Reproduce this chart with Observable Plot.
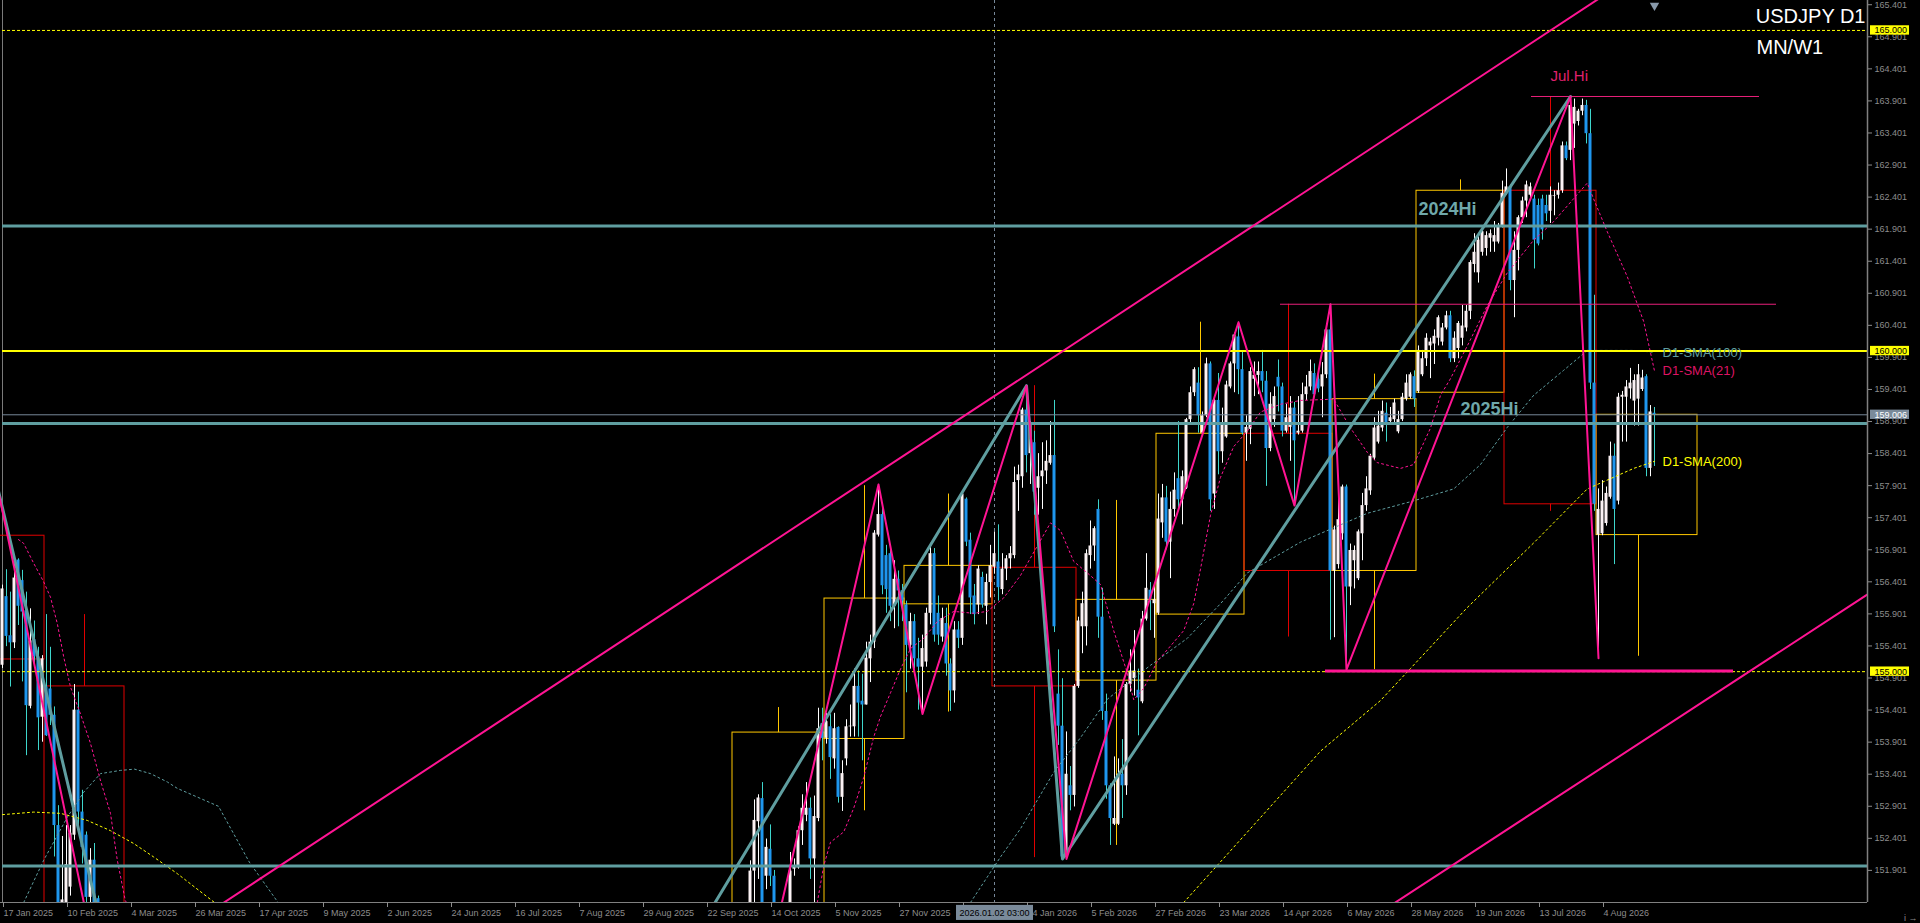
<!DOCTYPE html>
<html><head><meta charset="utf-8">
<script src="https://cdn.jsdelivr.net/npm/d3@7"></script>
<script src="https://cdn.jsdelivr.net/npm/@observablehq/plot@0.6"></script>
<style>html,body{margin:0;padding:0;background:#000;overflow:hidden}svg{display:block}</style>
</head><body>
<script>
// ---------- data ----------
const symbolTitle = "USDJPY D1";
const tfTitle = "MN/W1";

// daily candles, left block (bar index 0 = 17 Jan 2025)
const leftStart = 0;
const leftOpen  = [155.10,156.17,155.56,155.45,156.74,156.42,155.95,154.46,155.50,155.23,154.29,154.76,154.73,154.32,152.60,151.10,151.30,151.64,152.45,154.40,152.81,152.45,151.48,152.06,151.46];
const leftHigh  = [156.35,156.59,156.24,156.72,156.76,156.58,156.24,155.98,155.79,155.38,155.25,155.89,155.38,154.45,152.91,152.43,152.60,152.60,154.80,154.68,153.15,152.50,152.24,152.32,151.50];
const leftLow   = [155.05,155.39,154.76,155.36,155.72,154.84,153.69,154.42,155.07,153.77,153.90,153.99,154.16,152.11,151.00,150.90,151.10,151.50,152.37,152.52,152.00,151.20,151.30,151.00,150.80];
const leftClose = [156.29,155.55,155.45,156.46,156.02,155.93,154.47,155.48,155.23,154.28,155.20,154.00,154.32,152.60,151.20,151.44,151.99,152.48,154.40,152.81,152.26,151.48,152.06,151.20,151.00];

// daily candles, right block (bar 187 .. 413)
const rightStart = 187;
const rightOpen = [
151.30,151.89,152.66,153.02,151.81,152.23,151.81,null,null,null,
151.30,151.92,151.94,152.52,152.76,152.87,152.08,152.71,154.19,153.96,
154.14,153.64,154.13,153.04,153.64,154.14,154.14,154.77,154.54,154.48,
155.20,155.46,157.13,157.45,156.81,156.84,156.02,156.44,156.26,156.04,
155.41,155.78,155.20,155.07,155.15,155.91,156.84,155.91,155.54,155.75,
155.12,154.70,155.65,155.52,157.69,157.05,156.18,156.04,156.47,156.02,
156.39,156.63,156.71,156.28,156.60,156.76,156.81,157.98,158.04,159.08,
158.40,158.57,157.86,158.04,158.13,158.25,158.37,154.65,154.15,152.11,
153.22,153.07,154.77,155.70,155.70,156.81,156.96,157.53,155.85,154.38,
153.22,152.62,152.62,153.40,153.22,154.80,154.89,154.71,154.53,155.82,
156.27,156.06,155.91,157.32,157.71,157.02,157.53,158.01,157.68,157.86,
158.93,159.35,159.50,158.72,158.99,159.80,157.77,159.23,158.43,158.66,
159.44,159.80,160.22,159.71,158.72,158.78,159.56,159.62,159.68,159.53,
158.48,158.93,159.59,159.44,158.75,158.81,159.11,158.72,158.75,159.32,
159.44,159.65,159.56,159.44,159.63,160.33,156.57,156.67,157.15,157.88,
156.32,156.73,156.45,157.15,157.59,157.82,158.33,158.58,158.80,159.03,
158.90,158.93,158.74,158.93,159.25,159.28,159.60,159.37,159.63,159.88,
160.08,160.11,160.20,160.14,160.36,160.55,159.88,160.04,160.20,160.36,
160.62,161.35,161.22,161.54,161.60,161.76,161.70,161.70,161.95,162.46,
162.56,161.10,161.57,162.08,162.34,162.43,162.37,162.27,162.37,162.27,
162.18,162.41,162.43,162.50,163.20,163.13,163.54,163.58,163.74,163.83,
163.39,159.50,157.13,157.15,157.31,157.72,158.36,157.66,159.28,159.28,
159.41,159.22,159.25,159.40,159.60,158.17,159.03];
const rightHigh = [
152.05,153.00,153.08,153.27,152.39,152.61,151.90,null,null,null,
152.18,152.08,152.58,153.08,153.27,153.03,153.06,154.43,154.43,154.35,
154.33,154.35,154.14,153.61,154.25,154.48,155.04,155.01,154.96,155.46,
155.57,157.20,157.92,157.55,156.97,156.95,156.73,156.57,156.36,156.10,
155.91,155.89,155.52,155.57,155.99,157.00,156.92,156.18,155.99,155.99,
155.20,155.78,155.78,157.80,157.71,157.16,156.36,156.65,156.55,156.52,
156.97,157.18,157.29,156.84,156.81,156.95,158.19,158.22,159.11,159.46,
158.90,158.75,158.40,158.57,158.60,158.90,159.23,155.34,154.89,154.06,
153.52,154.80,155.85,156.24,156.90,157.35,157.26,157.68,156.30,154.65,
153.25,153.67,153.64,153.94,154.83,155.34,155.64,155.04,155.94,156.84,
156.39,156.36,157.77,157.92,157.89,157.80,158.10,158.90,158.13,158.95,
159.44,159.74,159.74,159.05,159.89,159.83,159.26,159.65,159.11,159.53,
159.83,160.28,160.45,159.98,158.99,159.74,159.83,159.83,160.01,159.68,
159.35,159.44,159.86,159.50,159.17,159.29,159.20,159.29,159.50,159.62,
159.86,159.80,159.71,159.82,160.43,160.73,157.27,157.88,157.91,157.91,
156.99,156.96,157.21,157.78,158.04,158.39,158.96,159.06,159.22,159.19,
159.12,159.25,159.06,159.34,159.63,159.66,159.69,160.08,160.01,160.27,
160.20,160.33,160.55,160.43,160.62,160.62,160.30,160.46,160.71,160.71,
161.41,161.83,161.80,161.89,161.86,161.89,162.02,161.99,162.65,162.84,
162.59,161.86,162.11,162.40,162.65,162.62,162.43,162.37,162.43,162.43,
162.56,162.50,162.62,163.26,163.26,163.97,163.93,163.77,163.93,163.91,
163.77,160.87,157.85,157.98,157.88,158.58,158.55,159.34,159.37,159.54,
159.73,159.63,159.79,159.70,159.63,159.15,159.12];
const rightLow = [
151.10,151.30,151.76,151.20,151.60,151.65,151.10,null,null,null,
151.20,151.81,151.92,152.29,152.66,151.76,151.40,152.66,153.61,153.87,
153.32,153.48,152.95,152.82,153.53,153.98,153.98,153.98,153.61,154.48,
154.83,155.36,157.10,156.20,155.91,155.78,155.67,155.70,155.78,154.67,
155.04,155.04,154.40,154.35,155.07,155.73,155.46,155.41,155.46,154.93,
154.38,154.51,155.36,155.41,156.95,155.89,155.73,155.89,155.99,155.73,
156.15,156.52,156.10,156.20,156.42,156.60,156.76,157.50,157.86,158.10,
157.92,157.44,157.44,157.53,157.92,158.22,155.61,153.85,152.08,152.08,
152.83,152.89,154.74,155.28,155.40,156.60,156.72,155.52,154.24,153.01,
152.29,152.60,152.60,152.71,153.07,154.68,154.62,154.00,154.50,155.79,
155.64,155.52,155.88,157.08,156.90,156.45,157.41,157.53,157.29,157.84,
158.87,159.29,158.72,158.69,158.96,157.50,157.53,158.07,158.25,158.64,
159.41,159.35,159.32,158.69,158.28,158.54,159.29,159.32,159.35,157.89,
158.43,158.81,159.05,158.66,158.72,158.28,157.59,158.69,158.72,159.23,
159.38,159.29,159.35,158.96,159.57,155.49,155.53,156.60,157.05,155.03,
156.03,156.29,156.42,156.73,157.50,157.75,158.29,158.55,158.74,158.58,
158.85,158.87,158.71,158.90,159.22,159.25,159.12,159.34,159.60,159.76,
159.57,159.79,160.08,160.08,160.33,159.82,159.82,159.88,160.08,160.30,
160.49,161.22,161.06,161.48,161.48,161.54,161.54,161.67,161.92,162.43,
160.94,160.52,161.25,161.99,162.08,162.34,161.28,161.64,161.73,162.02,
161.99,162.11,162.37,162.46,162.97,162.97,163.16,163.51,163.67,163.23,
159.40,157.50,155.21,157.12,157.27,157.69,156.67,157.60,158.58,158.58,
159.25,158.83,158.83,159.37,158.04,158.04,158.20];
const rightClose = [
151.89,152.68,153.03,151.30,152.26,151.81,151.30,null,null,null,
151.89,151.97,152.52,152.87,152.87,152.08,152.74,154.11,153.96,154.22,
153.66,154.11,153.04,153.41,154.14,154.15,154.77,154.51,154.48,155.21,
155.46,157.16,157.45,156.34,156.28,156.02,156.44,156.26,156.10,155.41,
155.78,155.20,155.07,155.36,155.91,156.84,155.57,155.57,155.83,155.12,
154.70,155.65,155.52,157.77,157.02,156.15,155.89,156.60,156.04,156.39,
156.65,156.84,156.31,156.60,156.76,156.84,157.95,158.07,159.08,158.37,
158.87,157.80,158.04,158.13,158.28,158.37,155.70,154.15,152.11,153.40,
153.07,154.77,155.79,156.06,156.84,156.96,157.23,155.85,154.38,153.22,
152.71,152.71,153.40,153.22,154.80,155.01,155.01,154.59,155.82,156.30,
156.12,156.12,157.38,157.71,157.02,157.53,157.83,157.68,158.04,158.93,
159.35,159.71,158.99,158.99,159.80,157.68,159.23,158.43,158.84,159.47,
159.80,160.25,159.71,158.72,158.81,159.68,159.62,159.68,159.53,158.48,
159.17,159.29,159.44,158.75,158.96,159.11,158.60,158.75,159.32,159.44,
159.68,159.32,159.41,159.63,160.33,156.57,157.21,157.37,157.88,156.32,
156.89,156.89,157.18,157.59,157.85,158.36,158.80,158.83,159.06,158.87,
158.96,159.19,158.93,159.28,159.50,159.63,159.25,160.01,159.88,160.20,
160.14,160.23,160.52,160.36,160.55,159.88,160.20,160.43,160.39,160.62,
161.38,161.54,161.73,161.86,161.80,161.83,161.80,161.95,162.46,162.56,
161.10,161.57,162.08,162.34,162.59,162.56,161.73,161.67,161.89,162.14,
162.43,162.42,162.50,163.20,163.00,163.83,163.80,163.74,163.83,163.39,
159.50,157.61,157.53,157.66,157.78,158.36,157.53,159.28,159.31,159.44,
159.50,159.54,159.63,159.58,158.17,159.05,159.006];

// monthly (MN) boxes
const monthStart = [-12, 11, 183, 206, 226, 248, 269, 289, 311, 333, 354, 376, 399];
const monthNext  = [11, 31, 206, 226, 248, 269, 289, 311, 333, 354, 376, 399, 420];
const monthOpen  = [157.12,154.77,147.90,153.95,156.05,156.62,154.86,155.89,158.71,156.57,159.35,162.50,157.13];
const monthClose = [155.19,150.60,154.05,156.14,156.65,154.77,156.12,158.71,156.57,159.25,162.50,157.61,159.006];
const monthHigh  = [158.87,155.89,154.44,157.90,157.77,159.46,157.67,160.45,160.73,159.64,162.67,163.97,159.77];
const monthLow   = [154.80,149.30,146.60,152.83,154.37,152.10,152.29,155.89,155.54,155.03,159.35,157.50,155.24];
const currentBoxEnd = 424.25;

// moving averages [bar, value]
const sma21Left = [[4,157.06],[5.3,157.0],[7.8,156.69],[10.3,156.40],[12,156.16],[13.7,155.75],[15.3,155.23],[17,154.76],[19.5,154.34],[22,153.88],[24.5,153.30],[27,152.79],[28.7,152.06],[30.7,151.43],[31,151.40]];
const sma21Right = [[203.7,151.40],[205.3,151.97],[207,152.34],[210.3,152.50],[212.8,152.87],[215.3,153.35],[217.8,153.98],[219.5,154.30],[222,154.67],[224.5,155.04],[227,155.36],[230.3,155.52],[233.7,155.78],[237.8,155.94],[242.8,155.91],[246.2,155.94],[250.3,156.15],[254.5,156.50],[262,157.32],[264.5,157.20],[267.8,156.72],[271.2,156.54],[274.5,156.36],[277.8,155.64],[281.2,154.98],[282.8,154.56],[285.3,154.74],[288.7,155.16],[292,155.40],[295.3,155.64],[297.8,156.06],[299.5,156.60],[302,157.44],[304.5,158.03],[307.8,158.51],[311.2,158.75],[314.5,159.05],[319.5,159.17],[324.5,159.23],[332.8,159.25],[337,158.80],[341.2,158.42],[343.7,158.26],[349.5,158.17],[352.8,158.23],[357,158.80],[359.5,159.31],[362,159.57],[366.2,160.08],[371.2,160.71],[376.2,161.22],[382.8,161.73],[387.8,162.02],[396.2,162.62],[397.8,162.37],[401.2,161.86],[406.2,161.16],[410.3,160.46],[413,159.69]];
const sma100Left = [[5.3,151.40],[10.3,152.06],[16.2,152.73],[20.3,153.12],[24.5,153.41],[29.5,153.46],[33,153.48],[37,153.41],[41.2,153.28],[43.7,153.18],[54,152.90],[61.7,152.03],[68.9,151.40]];
const sma100Right = [[242,151.40],[249.5,152.11],[254.5,152.55],[262.8,153.43],[269.5,153.97],[276.2,154.57],[287,155.10],[296.2,155.52],[304.5,156.06],[311.2,156.54],[316.2,156.72],[324.5,157.02],[341.2,157.47],[352,157.65],[362.8,157.85],[369.5,158.23],[376.2,158.81],[382.8,159.31],[390.3,159.70],[396.2,160.01],[408,160.01],[413,159.98]];
const sma200Left = [[0,152.77],[7.8,152.81],[14.5,152.79],[21.2,152.68],[27,152.52],[32.8,152.32],[37.8,152.11],[43.7,151.85],[53,151.40]];
const sma200Right = [[295.3,151.40],[329.5,153.76],[344.5,154.55],[352,155.05],[366.2,156.00],[383,157.02],[396.2,157.85],[407.8,158.17],[413,158.28]];

// zigzags [bar, price]
const zigzagW1 = [[-3,158.40],[37,146.40],[67,139.89],[183,148.20],[219,157.92],[230,154.34],[256,159.46],[266,152.08],[309,160.45],[323,157.59],[332,160.73],[336,155.03],[392,163.97],[399,155.21]];
const zigzagMN = [[-5,158.87],[67,139.89],[256,159.46],[265,152.08],[392,163.97]];

// trend channel anchors [bar, price]
const upperChannel = [[179.5,156.49],[397.25,165.42]];
const lowerChannel = [[374.5,152.47],[448.7,155.49]];

// levels
const teallevels = [161.95, 158.87, 151.97];
const level2024Hi = 161.95, level2025Hi = 158.87;
const roundSolid = [160.000];
const roundDashed = [165.000, 155.000];
const bid = 159.006;
const julHi = 163.97, aprHi = 160.73, mayLo = 155.01;

// axes
const yTicks = [151.901,152.401,152.901,153.401,153.901,154.401,154.901,155.401,155.901,156.401,156.901,157.401,157.901,158.401,158.901,159.401,159.901,160.401,160.901,161.401,161.901,162.401,162.901,163.401,163.901,164.401,164.901,165.401];
const xTickBars = [0,16,32,48,64,80,96,112,128,144,160,176,192,208,224,240,256,272,288,304,320,336,352,368,384,400];
const xTickLabels = ["17 Jan 2025","10 Feb 2025","4 Mar 2025","26 Mar 2025","17 Apr 2025","9 May 2025","2 Jun 2025","24 Jun 2025","16 Jul 2025","7 Aug 2025","29 Aug 2025","22 Sep 2025","14 Oct 2025","5 Nov 2025","27 Nov 2025","","14 Jan 2026","5 Feb 2026","27 Feb 2026","23 Mar 2026","14 Apr 2026","6 May 2026","28 May 2026","19 Jun 2026","13 Jul 2026","4 Aug 2026"];
const crossBar = 248, crossLabel = "2026.01.02 03:00";
const priceTags = [
  {v:165.000, t:"165.000", bg:"#FFFF00", fg:"#000"},
  {v:160.000, t:"160.000", bg:"#FFFF00", fg:"#000"},
  {v:155.000, t:"155.000", bg:"#FFFF00", fg:"#000"},
  {v:159.006, t:"159.006", bg:"#7A8A9A", fg:"#fff"}
];

// ---------- build ----------
const TEAL="#5F9EA0", PINK="#FF1493", GOLD="#FFC800", RED="#E00000", YEL="#FFFF00";
const BULL_BODY="#FBF2F4", BULL_WICK="#FFFFFF", BEAR_BODY="#1E96EE", BEAR_WICK="#3ED6CC";
const AX="#8C8C8C", FONT="Liberation Sans, Arial, sans-serif";

function block(start, O, Hh, L, C){
  return O.map((o,k)=> o==null ? null : {i:start+k, open:o, high:Hh[k], low:L[k], close:C[k]}).filter(Boolean);
}
const candles = [...block(leftStart,leftOpen,leftHigh,leftLow,leftClose), ...block(rightStart,rightOpen,rightHigh,rightLow,rightClose)];
const isBull = d => d.close >= d.open;
const months = monthStart.map((s,k)=>({start:s, next:monthNext[k], open:monthOpen[k], close:monthClose[k], high:monthHigh[k], low:monthLow[k], boxEnd: k===monthStart.length-1 ? currentBoxEnd : monthNext[k]}));
const mColor = d => d.close >= d.open ? GOLD : RED;
const mMid = d => (d.start + d.next - 1)/2;

const X_DOMAIN=[-0.5,466.25], Y_DOMAIN=[151.4,165.467];
function extend(a){ // extend a 2-anchor trendline across the view
  const [[x0,y0],[x1,y1]] = a, s=(y1-y0)/(x1-x0);
  return [[-20, y0+s*(-20-x0)], [480, y0+s*(480-x0)]];
}
const lastBar = candles[candles.length-1].i;
const P = d=>d[0], V = d=>d[1];
const dotted = {strokeWidth:1, strokeDasharray:"2,3", clip:true};

const chart = Plot.plot({
  width:1920, height:923,
  marginLeft:0, marginRight:53, marginTop:0, marginBottom:21,
  style:{background:"#000", color:AX, fontFamily:FONT, overflow:"visible"},
  x:{domain:X_DOMAIN, axis:null},
  y:{domain:Y_DOMAIN, axis:null},
  marks:[
    // left border
    Plot.ruleX([0], {stroke:"#7A7A7A", strokeWidth:1}),
    // monthly boxes
    Plot.rect(months, {x1:d=>d.start-0.5, x2:d=>d.boxEnd-0.5, y1:"open", y2:"close", fill:"none", stroke:mColor, strokeWidth:1, clip:true}),
    Plot.ruleX(months, {x:mMid, y1:d=>Math.max(d.open,d.close), y2:"high", stroke:mColor, clip:true}),
    Plot.ruleX(months, {x:mMid, y1:d=>Math.min(d.open,d.close), y2:"low", stroke:mColor, clip:true}),
    // crosshair
    Plot.ruleX([crossBar], {stroke:"#778899", strokeDasharray:"3,3"}),
    // candles
    Plot.ruleX(candles, {x:"i", y1:"low", y2:"high", stroke:d=>isBull(d)?BULL_WICK:BEAR_WICK, clip:true}),
    Plot.rect(candles, {x1:d=>d.i-0.375, x2:d=>d.i+0.375, y1:"open", y2:"close", fill:d=>isBull(d)?BULL_BODY:BEAR_BODY, clip:true}),
    // moving averages
    Plot.line(sma200Left, {x:P, y:V, stroke:YEL, ...dotted}),
    Plot.line(sma200Right, {x:P, y:V, stroke:YEL, ...dotted}),
    Plot.line(sma100Left, {x:P, y:V, stroke:TEAL, ...dotted}),
    Plot.line(sma100Right, {x:P, y:V, stroke:TEAL, ...dotted}),
    Plot.line(sma21Left, {x:P, y:V, stroke:PINK, ...dotted}),
    Plot.line(sma21Right, {x:P, y:V, stroke:PINK, ...dotted}),
    // horizontal levels
    Plot.ruleY(roundDashed, {x1:0, x2:X_DOMAIN[1], stroke:YEL, strokeWidth:1, strokeDasharray:"3,2"}),
    Plot.ruleY(roundSolid, {x1:0, x2:X_DOMAIN[1], stroke:YEL, strokeWidth:2}),
    Plot.ruleY([bid], {x1:0, x2:X_DOMAIN[1], stroke:"#778899", strokeWidth:1}),
    Plot.ruleY(teallevels, {x1:0, x2:X_DOMAIN[1], stroke:TEAL, strokeWidth:3}),
    Plot.ruleY([julHi], {x1:382.25, x2:439.25, stroke:"#E8207A", strokeWidth:1}),
    Plot.ruleY([aprHi], {x1:319.5, x2:443.5, stroke:"#E8207A", strokeWidth:1}),
    Plot.ruleY([mayLo], {x1:330.75, x2:432.75, stroke:PINK, strokeWidth:3}),
    // channel
    Plot.line(extend(upperChannel), {x:P, y:V, stroke:PINK, strokeWidth:2, clip:true}),
    Plot.line(extend(lowerChannel), {x:P, y:V, stroke:PINK, strokeWidth:2, clip:true}),
    // zigzags
    Plot.line(zigzagMN, {x:P, y:V, stroke:TEAL, strokeWidth:3, clip:true}),
    Plot.line(zigzagW1, {x:P, y:V, stroke:PINK, strokeWidth:2, clip:true}),
    // axes lines
    Plot.ruleY([Y_DOMAIN[0]], {stroke:"#808080"}),
    Plot.ruleX([X_DOMAIN[1]], {stroke:"#808080", strokeWidth:1.5}),
    Plot.axisY({anchor:"right", ticks:yTicks, tickFormat:d=>d.toFixed(3), tickSize:4, tickPadding:3, fontSize:9, color:AX}),
    Plot.axisX({anchor:"bottom", ticks:xTickBars, tickFormat:d=>xTickLabels[xTickBars.indexOf(d)], tickSize:5, tickPadding:2, textAnchor:"start", dx:1, fontSize:9, color:AX}),
    // price tags
    Plot.rect(priceTags, {x1:467, x2:476.75, y1:d=>d.v-0.073, y2:d=>d.v+0.073, fill:d=>d.bg}),
    Plot.text(priceTags, {x:468, y:"v", text:"t", fill:d=>d.fg, textAnchor:"start", lineAnchor:"middle", fontSize:9, fontFamily:FONT}),
    // crosshair tag
    Plot.rect([crossLabel], {x1:crossBar-9.5, x2:crossBar+9.75, y1:151.355, y2:151.12, fill:"#7A8A9A"}),
    Plot.text([crossLabel], {x:crossBar, y:151.237, text:d=>d, fill:"#000", fontSize:9, fontFamily:FONT, lineAnchor:"middle"}),
    // chart shift marker
    Plot.dot([lastBar], {x:d=>d, frameAnchor:"top", dy:5, symbol:"triangle", rotate:180, r:3.5, fill:"#8899AA", stroke:null}),
    // labels
    Plot.text([symbolTitle], {frameAnchor:"top-right", text:d=>d, dx:-2, dy:8, textAnchor:"end", lineAnchor:"top", fill:"#fff", fontSize:20, fontFamily:FONT}),
    Plot.text([tfTitle], {frameAnchor:"top-right", text:d=>d, dx:-111, dy:39, textAnchor:"start", lineAnchor:"top", fill:"#fff", fontSize:20, fontFamily:FONT}),
    Plot.text(["2024Hi"], {x:354, y:level2024Hi, text:d=>d, dy:-11, textAnchor:"start", lineAnchor:"bottom", fill:"#6FA8AA", fontSize:18, fontWeight:"bold", fontFamily:FONT}),
    Plot.text(["2025Hi"], {x:364.5, y:level2025Hi, text:d=>d, dy:-9, textAnchor:"start", lineAnchor:"bottom", fill:"#6FA8AA", fontSize:18, fontWeight:"bold", fontFamily:FONT}),
    Plot.text(["Jul.Hi"], {x:387, y:julHi, text:d=>d, dy:-15, textAnchor:"start", lineAnchor:"bottom", fill:"#E0206E", fontSize:15, fontFamily:FONT}),
    Plot.text([["D1-SMA(100)", sma100Right], ["D1-SMA(21)", sma21Right], ["D1-SMA(200)", sma200Right]], {
      x:lastBar+2, y:d=>d[1][d[1].length-1][1], text:d=>d[0], textAnchor:"start", lineAnchor:"middle",
      fill:(d,k)=>[TEAL,"#DC1464",YEL][k], fontSize:13, fontFamily:FONT})
  ]
});
document.body.append(chart);
</script>
</body></html>
